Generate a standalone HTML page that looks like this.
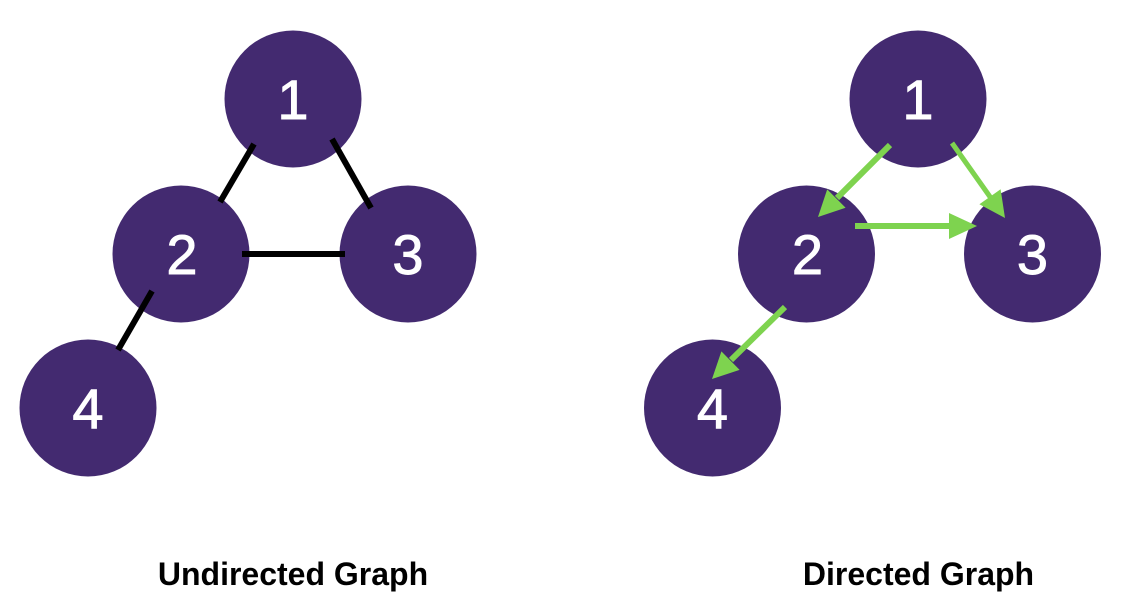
<!DOCTYPE html>
<html>
<head>
<meta charset="utf-8">
<style>
  html, body { margin: 0; padding: 0; background: #ffffff; }
  body { width: 1132px; height: 600px; overflow: hidden; }
  svg { display: block; }
  .n { fill: #432a70; }
  .num { font-family: "Liberation Sans", Arial, sans-serif; font-size: 56px; fill: #ffffff; stroke: #ffffff; stroke-width: 0.9px; text-anchor: middle; }
  .lbl { font-family: "Liberation Sans", Arial, sans-serif; font-size: 32px; font-weight: bold; fill: #000000; text-anchor: middle; }
</style>
</head>
<body>
<svg width="1132" height="600" viewBox="0 0 1132 600" xmlns="http://www.w3.org/2000/svg">
  <!-- Undirected graph -->
  <circle class="n" cx="293" cy="99" r="68.5"/>
  <circle class="n" cx="181" cy="254" r="68.5"/>
  <circle class="n" cx="408" cy="254" r="68.5"/>
  <circle class="n" cx="88" cy="408" r="68.5"/>
  <g stroke="#000" stroke-width="6" stroke-linecap="butt">
    <line x1="254" y1="144" x2="220" y2="202"/>
    <line x1="332" y1="139" x2="371" y2="208"/>
    <line x1="242" y1="254" x2="345" y2="254"/>
    <line x1="152" y1="291" x2="118" y2="350"/>
  </g>
  <text class="num" x="293" y="119">1</text>
  <text class="num" x="182" y="274">2</text>
  <text class="num" x="408" y="274">3</text>
  <text class="num" x="88" y="428">4</text>

  <!-- Directed graph -->
  <circle class="n" cx="918" cy="99" r="68.5"/>
  <circle class="n" cx="806.5" cy="254" r="68.5"/>
  <circle class="n" cx="1032.5" cy="254" r="68.5"/>
  <circle class="n" cx="712.5" cy="408" r="68.5"/>
  <g stroke="#7ed34f" stroke-linecap="butt">
    <line x1="890" y1="145" x2="837" y2="198" stroke-width="6"/>
    <line x1="952" y1="143" x2="990.5" y2="197.5" stroke-width="5"/>
    <line x1="855" y1="226" x2="951" y2="226" stroke-width="6"/>
    <line x1="785" y1="307" x2="731" y2="360" stroke-width="6"/>
  </g>
  <g fill="#7ed34f">
    <polygon points="818,217 845.6,207.8 827.2,189.4"/>
    <polygon points="1005,218 979.4,204.3 1000.6,189.3"/>
    <polygon points="977,226 949,213 949,239"/>
    <polygon points="712,379 739.6,369.9 721.4,351.4"/>
  </g>
  <text class="num" x="918" y="119">1</text>
  <text class="num" x="807.5" y="274">2</text>
  <text class="num" x="1032.5" y="274">3</text>
  <text class="num" x="712.5" y="428">4</text>

  <!-- Labels -->
  <text class="lbl" x="293" y="585">Undirected Graph</text>
  <text class="lbl" x="918.5" y="585">Directed Graph</text>
</svg>
</body>
</html>
